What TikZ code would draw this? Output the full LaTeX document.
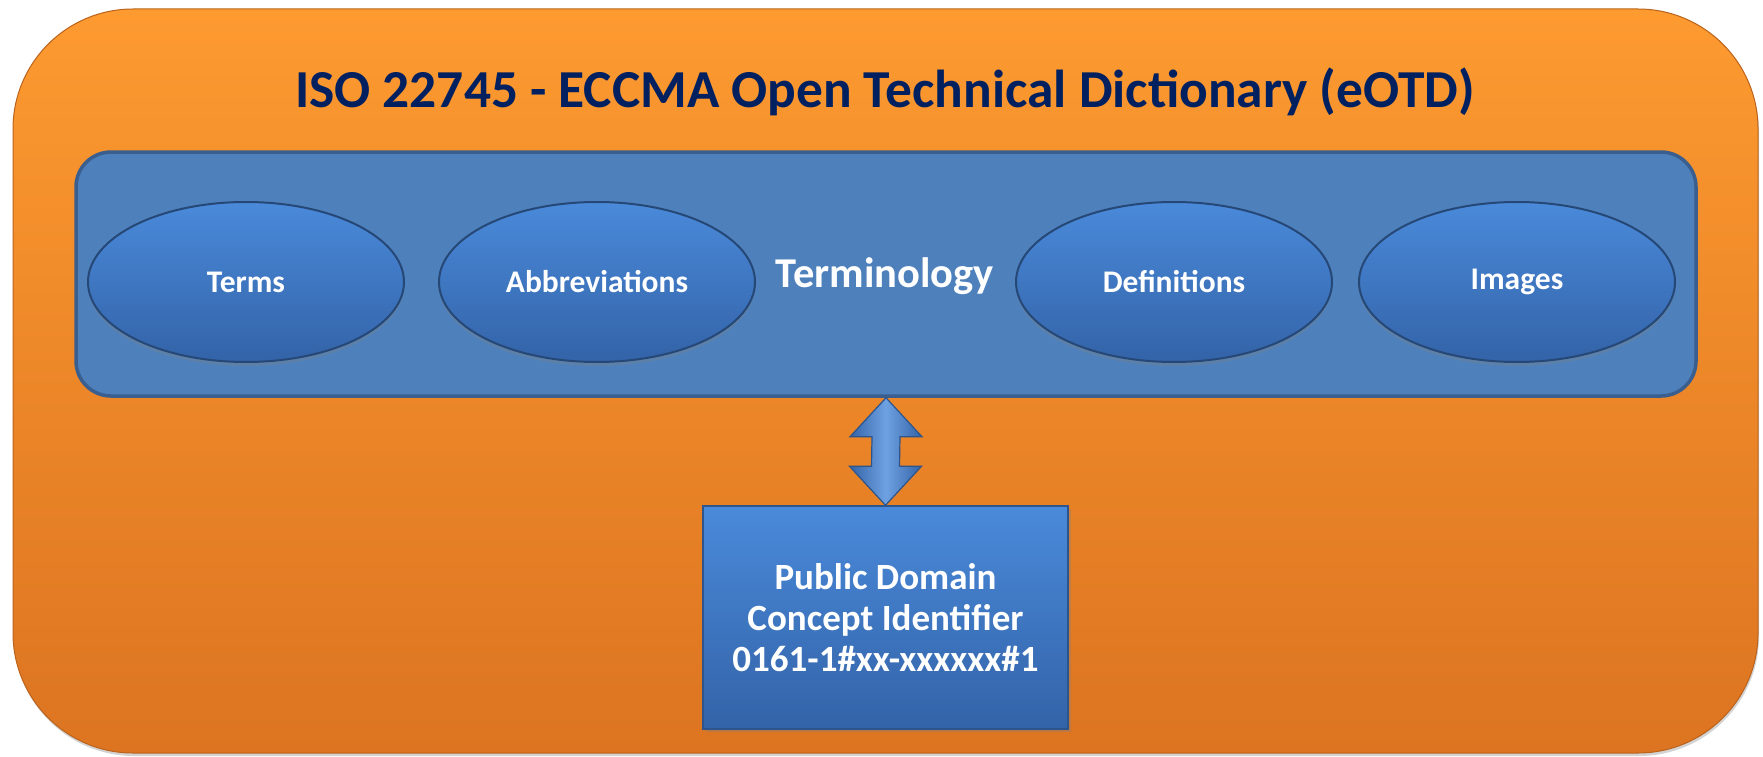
\documentclass[tikz,border=0pt]{standalone}
\usepackage{fontspec}
\setmainfont{Carlito}
\usetikzlibrary{calc,shapes.geometric,shadows}
\definecolor{orTop}{HTML}{FD9A30}
\definecolor{orBot}{HTML}{DC7421}
\definecolor{innerFill}{HTML}{4E80BC}
\definecolor{innerLine}{HTML}{3A5F8E}
\definecolor{bluTop}{HTML}{4A8ADA}
\definecolor{bluBot}{HTML}{3363A8}
\definecolor{bluLine}{HTML}{2D558C}
\definecolor{navy}{HTML}{002060}
\tikzset{
  outerbox/.style={rectangle, rounded corners=120pt, minimum width=1745pt, minimum height=744pt,
    top color=orTop, bottom color=orBot, draw=orBot!85!black, line width=1pt,
    drop shadow={shadow xshift=1pt, shadow yshift=-3pt, opacity=0.35}},
  innerbox/.style={rectangle, rounded corners=35pt, minimum width=1620pt, minimum height=244pt,
    fill=innerFill, draw=innerLine, line width=3.5pt},
  oval/.style={ellipse, minimum width=316pt, minimum height=160pt, inner sep=0pt,
    top color=bluTop, bottom color=bluBot, draw=bluLine!85!black, line width=2pt,
    text=white, font=\bfseries\fontsize{31.5}{36}\selectfont,
    drop shadow={shadow xshift=0pt, shadow yshift=-4pt, opacity=0.3}},
  idbox/.style={rectangle, minimum width=365pt, minimum height=223pt, align=center,
    top color=bluTop, bottom color=bluBot, draw=bluLine, line width=1.5pt,
    text=white, font=\bfseries\fontsize{37}{41}\selectfont,
    drop shadow={shadow xshift=3pt, shadow yshift=-3pt, opacity=0.35}},
  dblarrow/.style={left color=bluBot, right color=bluBot, middle color=bluTop!80!white, draw=bluLine, line width=1.2pt, line join=miter}
}
\begin{document}
\begin{tikzpicture}[x=1pt,y=1pt]
\useasboundingbox (0,0) rectangle (1763,-757);
\node[outerbox] (outer) at (885.5,-381) {};
\node[text=navy, font=\bfseries\fontsize{53.4}{60}\selectfont] (title) at (885,-92) {ISO 22745 - ECCMA Open Technical Dictionary (eOTD)};
\node[innerbox] (inner) at (886,-274) {};
\node[text=white, font=\bfseries\fontsize{42.5}{48}\selectfont] (termin) at (885,-276) {Terminology};
\node[oval] (terms) at (246,-282) {Terms};
\node[oval] (abbr) at (597,-282) {Abbreviations};
\node[oval] (defs) at (1174,-282) {Definitions};
\node[oval] (imgs) at (1517,-282) {Images};
\node[idbox] (pdci) at (885.5,-617.5) {Public Domain\\Concept Identifier\\0161-1\#xx-xxxxxx\#1};
\path[dblarrow] (inner.south) -- ++(36,-39) -- ++(-22,0) -- ($(pdci.north)+(14,39)$) -- ++(22,0)
  -- (pdci.north) -- ++(-36,39) -- ++(22,0) -- ($(inner.south)+(-14,-39)$) -- ++(-22,0) -- cycle;
\end{tikzpicture}
\end{document}
